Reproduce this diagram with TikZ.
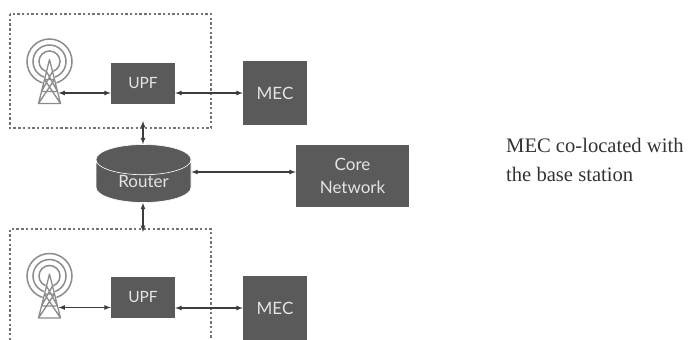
\documentclass[tikz,border=0pt]{standalone}
\usepackage{fontspec}
\setmainfont{Liberation Serif}
\newfontfamily\boxfont{Lato}
\usetikzlibrary{shapes.geometric}
\definecolor{boxgray}{HTML}{5A5A5A}
\definecolor{linkgray}{HTML}{3C3C3C}
\definecolor{towergray}{HTML}{8C8C8C}
\definecolor{labelgray}{HTML}{E4E4E4}
\tikzset{
    block/.style={fill=boxgray, text=labelgray, font=\boxfont\fontsize{17}{23}\selectfont, align=center, inner sep=0pt},
    link/.style={<->, >=latex, draw=linkgray, line width=1.2pt},
    zone/.style={draw=boxgray!85, line width=2.4pt, dash pattern=on 2.4pt off 2.3pt},
    tower/.pic={
        \draw[towergray, line width=1.5pt] (0,0) circle (22.5) (0,0) circle (16.5) (0,0) circle (10.5);
        \fill[white] (0,-4) -- (-13,44) -- (13,44) -- cycle;
        \draw[towergray, line width=1.3pt, line join=round] (-11,42) -- (0,-2) -- (11,42) -- cycle
            (-8,30) -- (8,30) (-5,18) -- (5,18) (-11,42) -- (5,18) (11,42) -- (-5,18) (-8,30) -- (3,10) (8,30) -- (-3,10);
        \coordinate (-port) at (9,31.5);
    }
}
\begin{document}
\begin{tikzpicture}[x=1pt, y=-1pt]
    \useasboundingbox (0,0) rectangle (689,340);

    \draw[zone] (10,14) rectangle (211,128);
    \draw[zone] (10,340) -- (10,229) -- (211,229) -- (211,340);

    \pic (towera) at (49.5,61.5) {tower};
    \pic (towerb) at (49.5,276) {tower};

    \node[block, minimum width=64pt, minimum height=41pt] (upfa) at (143,83) {\fontsize{15.5}{20}\selectfont UPF};
    \node[block, minimum width=64pt, minimum height=64pt] (meca) at (275,93) {MEC};
    \node[block, minimum width=64pt, minimum height=41pt] (upfb) at (143,297.5) {\fontsize{15.5}{20}\selectfont UPF};
    \node[block, minimum width=64pt, minimum height=64pt] (mecb) at (275,308) {MEC};
    \node[block, minimum width=113pt, minimum height=62pt] (core) at (352.5,176) {Core\\Network};

    \node[cylinder, shape border rotate=90, aspect=0.6, minimum width=95pt, minimum height=57pt, anchor=shape center,
        cylinder uses custom fill, cylinder end fill=boxgray, cylinder body fill=boxgray,
        draw=white, line width=0.6pt, text=labelgray, font=\boxfont\fontsize{17}{23}\selectfont, inner sep=0pt] (router) at (143.5,173.5) {Router};

    \coordinate (upfa-stub) at (143,121);
    \coordinate (upfb-stub) at (143,232);
    \coordinate (core-port) at ([yshift=4pt]core.west);

    \draw[link] (towera-port) -- (upfa.west |- towera-port);
    \draw[link] (upfa.east |- meca.west) -- (meca.west);
    \draw[link] (towerb-port) -- (upfb.west |- towerb-port);
    \draw[link] (upfb.east |- mecb.west) -- (mecb.west);
    \draw[link] (upfa-stub) -- (upfa-stub |- router.north);
    \draw[link] (upfb-stub |- router.south) -- (upfb-stub);
    \draw[link] (router.east |- core-port) -- (core-port);

    \node[anchor=west, align=left, inner sep=0pt, text=black!80, font=\fontsize{20.6}{29}\selectfont] (note) at (506,160) {MEC co-located with\\the base station};
\end{tikzpicture}
\end{document}
